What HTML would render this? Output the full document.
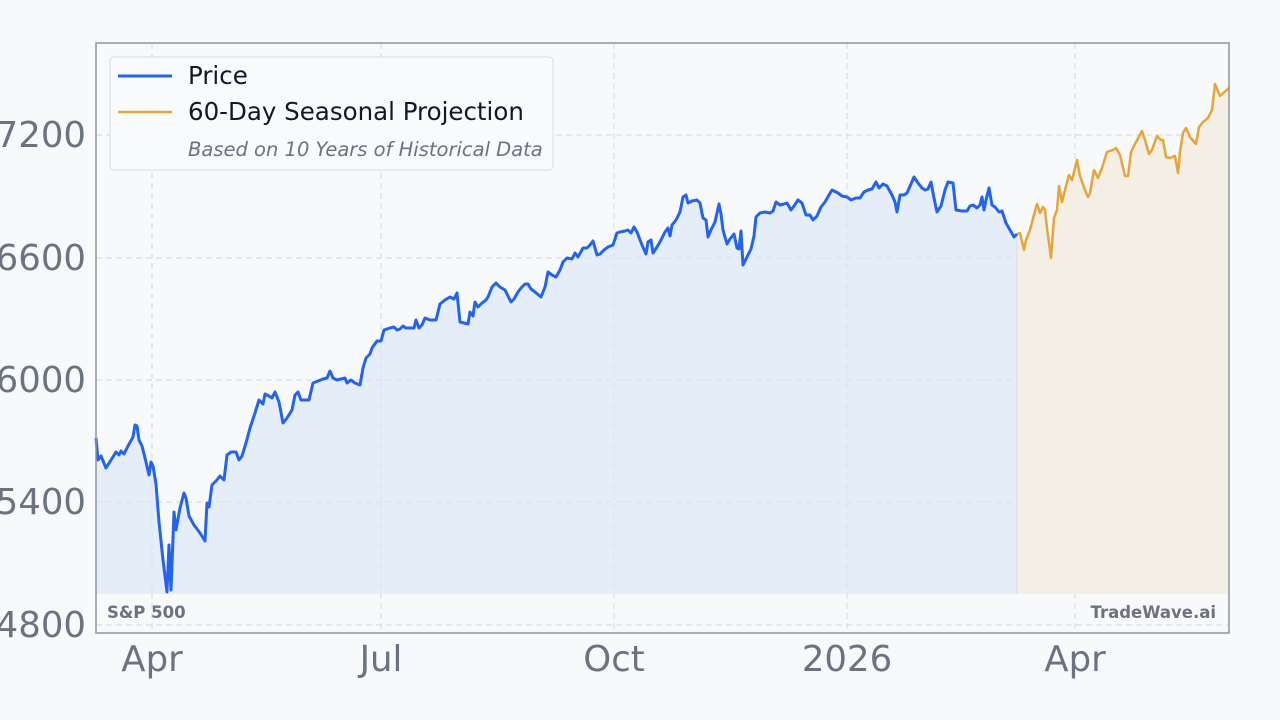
<!DOCTYPE html>
<html><head><meta charset="utf-8"><style>
html,body{margin:0;padding:0;background:#f7f9fb;}
svg{display:block;font-family:"DejaVu Sans",sans-serif;}
</style></head><body>
<svg width="1280" height="720" viewBox="0 0 1280 720" xmlns="http://www.w3.org/2000/svg">
<rect width="1280" height="720" fill="#f7f9fb"/>
<rect x="96" y="43" width="1133" height="590" fill="#f7f9fb"/>
<g stroke="#d9dee7" stroke-width="1.2" stroke-dasharray="6,4">
<line x1="96" x2="1229" y1="135" y2="135"/><line x1="96" x2="1229" y1="258" y2="258"/>
<line x1="96" x2="1229" y1="380" y2="380"/><line x1="96" x2="1229" y1="502" y2="502"/>
<line x1="96" x2="1229" y1="625" y2="625"/>
<line x1="152" x2="152" y1="43" y2="633"/><line x1="381" x2="381" y1="43" y2="633"/>
<line x1="614" x2="614" y1="43" y2="633"/><line x1="847" x2="847" y1="43" y2="633"/>
<line x1="1075" x2="1075" y1="43" y2="633"/>
</g>
<polygon fill="#dbe8f7" fill-opacity="0.7" points="96,594 96,438 98,460 101,456 106,468 111,460 116,452 119,455 121,451 124,454 128,446 133,437 135,425 137,426 139,440 142,446 146,462 149,475 151,462 153,466 156,484 159,522 163,560 167,592 169,545 171,590 174,512 176,530 180,508 184,493 186,498 189,516 194,525 200,533 205,541 207,503 209,507 212,485 216,481 220,476 224,480 227,455 231,452 236,452 239,460 242,456 246,443 250,428 255,413 259,400 263,404 265,394 269,396 272,398 275,392 279,402 283,423 287,418 292,410 295,395 298,392 301,400 306,400 309,400 313,383 318,381 323,379 327,378 330,371 333,378 337,380 341,379 345,378 347,383 351,380 355,383 360,385 363,368 366,358 370,354 372,348 377,341 381,341 384,330 390,328 394,327 397,330 400,329 403,326 406,328 410,328 414,328 416,320 419,328 422,325 425,318 430,320 436,320 440,304 445,300 450,297 454,299 457,293 460,322 464,323 468,324 470,312 473,316 475,302 478,307 482,303 486,300 488,297 492,287 496,283 500,287 505,290 508,296 511,302 514,299 518,292 521,288 525,284 528,284 531,289 535,292 541,297 545,287 548,272 552,275 556,277 560,270 563,262 567,258 572,259 575,253 578,257 583,248 587,248 590,245 593,241 597,255 600,254 604,250 608,247 613,245 617,233 620,232 625,231 628,230 631,233 634,227 637,232 642,245 646,254 648,242 651,240 653,253 657,247 661,240 665,232 668,228 670,236 672,225 676,220 680,212 683,197 686,195 688,203 692,201 697,200 700,203 703,218 706,220 708,237 711,230 715,222 719,204 721,214 723,230 727,244 730,239 734,234 737,248 739,249 741,231 743,265 746,259 751,249 754,236 756,217 760,213 765,212 770,213 773,211 776,202 780,205 784,204 787,203 791,210 794,206 798,200 802,203 806,215 810,215 813,220 817,216 821,207 825,202 829,195 832,190 838,193 842,196 847,197 851,200 856,198 860,198 864,192 868,190 872,189 876,182 879,188 883,184 887,186 892,195 895,202 897,212 900,195 904,195 907,193 911,184 914,177 918,183 922,188 925,190 928,189 931,182 934,198 937,212 941,206 945,190 948,182 953,183 956,210 962,211 967,211 970,206 973,205 977,208 980,205 982,197 984,210 986,200 989,188 992,205 995,207 999,212 1002,211 1006,223 1010,230 1014,237 1017,234 1017,594"/>
<polygon fill="#f4efe4" points="1017,594 1017,234 1020,233 1024,250 1026,240 1030,230 1034,215 1037,204 1040,213 1043,207 1045,210 1047,228 1051,258 1054,218 1057,210 1059,186 1062,202 1065,190 1069,175 1072,180 1077,160 1080,176 1085,190 1088,197 1090,193 1094,170 1098,178 1102,168 1107,152 1113,150 1116,148 1120,155 1125,176 1128,176 1131,152 1136,142 1142,131 1145,140 1149,154 1152,150 1157,136 1161,140 1163,140 1166,157 1170,158 1175,156 1178,173 1180,152 1183,133 1186,128 1190,137 1196,144 1199,127 1203,122 1208,118 1212,110 1215,84 1220,96 1229,88 1229,594"/>
<line x1="1017" x2="1017" y1="234" y2="594" stroke="#dcdcdc" stroke-width="1"/>
<polyline fill="none" stroke="#2563eb" stroke-width="3" stroke-linejoin="round" points="96,438 98,460 101,456 106,468 111,460 116,452 119,455 121,451 124,454 128,446 133,437 135,425 137,426 139,440 142,446 146,462 149,475 151,462 153,466 156,484 159,522 163,560 167,592 169,545 171,590 174,512 176,530 180,508 184,493 186,498 189,516 194,525 200,533 205,541 207,503 209,507 212,485 216,481 220,476 224,480 227,455 231,452 236,452 239,460 242,456 246,443 250,428 255,413 259,400 263,404 265,394 269,396 272,398 275,392 279,402 283,423 287,418 292,410 295,395 298,392 301,400 306,400 309,400 313,383 318,381 323,379 327,378 330,371 333,378 337,380 341,379 345,378 347,383 351,380 355,383 360,385 363,368 366,358 370,354 372,348 377,341 381,341 384,330 390,328 394,327 397,330 400,329 403,326 406,328 410,328 414,328 416,320 419,328 422,325 425,318 430,320 436,320 440,304 445,300 450,297 454,299 457,293 460,322 464,323 468,324 470,312 473,316 475,302 478,307 482,303 486,300 488,297 492,287 496,283 500,287 505,290 508,296 511,302 514,299 518,292 521,288 525,284 528,284 531,289 535,292 541,297 545,287 548,272 552,275 556,277 560,270 563,262 567,258 572,259 575,253 578,257 583,248 587,248 590,245 593,241 597,255 600,254 604,250 608,247 613,245 617,233 620,232 625,231 628,230 631,233 634,227 637,232 642,245 646,254 648,242 651,240 653,253 657,247 661,240 665,232 668,228 670,236 672,225 676,220 680,212 683,197 686,195 688,203 692,201 697,200 700,203 703,218 706,220 708,237 711,230 715,222 719,204 721,214 723,230 727,244 730,239 734,234 737,248 739,249 741,231 743,265 746,259 751,249 754,236 756,217 760,213 765,212 770,213 773,211 776,202 780,205 784,204 787,203 791,210 794,206 798,200 802,203 806,215 810,215 813,220 817,216 821,207 825,202 829,195 832,190 838,193 842,196 847,197 851,200 856,198 860,198 864,192 868,190 872,189 876,182 879,188 883,184 887,186 892,195 895,202 897,212 900,195 904,195 907,193 911,184 914,177 918,183 922,188 925,190 928,189 931,182 934,198 937,212 941,206 945,190 948,182 953,183 956,210 962,211 967,211 970,206 973,205 977,208 980,205 982,197 984,210 986,200 989,188 992,205 995,207 999,212 1002,211 1006,223 1010,230 1014,237 1017,234"/>
<polyline fill="none" stroke="#e5a53a" stroke-width="2.5" stroke-linejoin="round" points="1017,234 1020,233 1024,250 1026,240 1030,230 1034,215 1037,204 1040,213 1043,207 1045,210 1047,228 1051,258 1054,218 1057,210 1059,186 1062,202 1065,190 1069,175 1072,180 1077,160 1080,176 1085,190 1088,197 1090,193 1094,170 1098,178 1102,168 1107,152 1113,150 1116,148 1120,155 1125,176 1128,176 1131,152 1136,142 1142,131 1145,140 1149,154 1152,150 1157,136 1161,140 1163,140 1166,157 1170,158 1175,156 1178,173 1180,152 1183,133 1186,128 1190,137 1196,144 1199,127 1203,122 1208,118 1212,110 1215,84 1220,96 1229,88"/>
<rect x="96" y="43" width="1133" height="590" fill="none" stroke="#8e94a0" stroke-width="1.5"/>
<rect x="110" y="57" width="443" height="113" rx="4" fill="#f7f9fb" fill-opacity="0.9" stroke="#d8dce2"/>
<line x1="118" x2="172" y1="76" y2="76" stroke="#2563eb" stroke-width="3"/>
<line x1="118" x2="172" y1="112" y2="112" stroke="#e5a53a" stroke-width="2.5"/>
<text x="188" y="84" font-size="24.5" fill="#111827">Price</text>
<text x="188" y="120" font-size="24.5" fill="#111827">60-Day Seasonal Projection</text>
<text x="188" y="156" font-size="19.5" font-style="italic" fill="#6b7280">Based on 10 Years of Historical Data</text>
<g font-size="35.5" fill="#6b7280" text-anchor="end">
<text x="86" y="147">7200</text><text x="86" y="270">6600</text><text x="86" y="392">6000</text><text x="86" y="514">5400</text><text x="86" y="637">4800</text>
</g>
<g font-size="35.5" fill="#6b7280" text-anchor="middle">
<text x="152" y="671">Apr</text><text x="381" y="671">Jul</text><text x="614" y="671">Oct</text><text x="847" y="671">2026</text><text x="1075" y="671">Apr</text>
</g>
<text x="107" y="618" font-size="16.5" font-weight="bold" fill="#6b7280">S&amp;P 500</text>
<text x="1216" y="618" font-size="16.5" font-weight="bold" fill="#6b7280" text-anchor="end">TradeWave.ai</text>
</svg>
</body></html>
